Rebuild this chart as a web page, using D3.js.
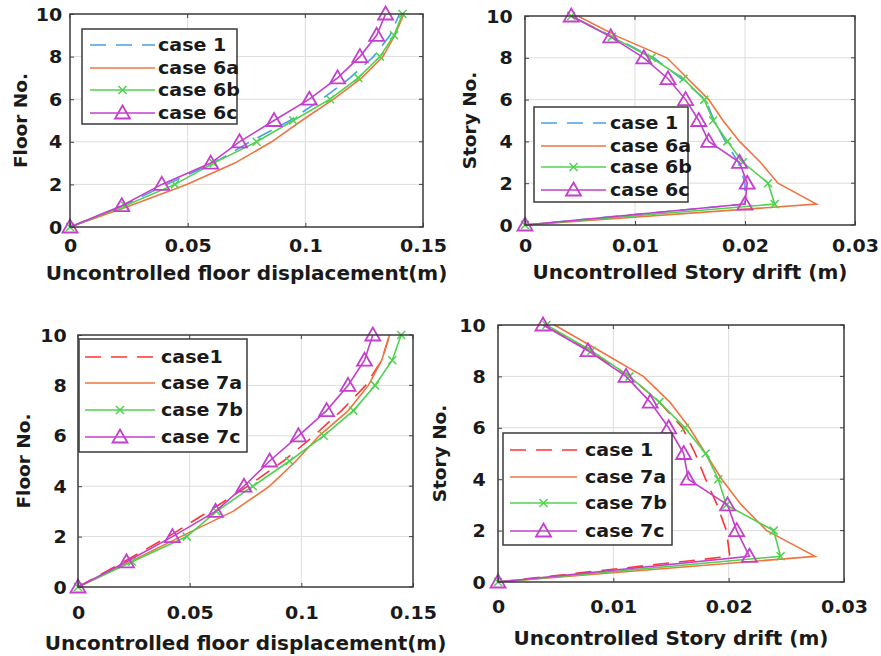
<!DOCTYPE html>
<html>
<head>
<meta charset="utf-8">
<script src="https://cdn.jsdelivr.net/npm/d3@7"></script>
<style>
  body { margin: 0; background: #fff; }
  svg { display: block; }
  text { font-family: "DejaVu Sans", sans-serif; font-weight: bold; fill: #1a1a1a; }
</style>
</head>
<body>
<div id="chart"></div>
<script>
// floor / story numbers
const floors = d3.range(0, 11);

// top-left: floor displacement, case 6
const disp6_case1 = [0, 0.0227, 0.041, 0.061, 0.0765, 0.0935, 0.107, 0.119, 0.129, 0.136, 0.140];
const disp6_a = [0, 0.0255, 0.0496, 0.070, 0.0857, 0.0985, 0.112, 0.124, 0.133, 0.138, 0.1419];
const disp6_b = [0, 0.0234, 0.0446, 0.061, 0.0793, 0.0949, 0.1105, 0.1225, 0.1317, 0.1377, 0.1413];
const disp6_c = [0, 0.022, 0.039, 0.0598, 0.072, 0.0867, 0.1017, 0.1137, 0.1232, 0.1303, 0.1341];

// top-right: story drift, case 6
const drift6_case1 = [0, 0.0200, 0.0200, 0.0194, 0.0182, 0.0172, 0.0164, 0.0142, 0.0117, 0.0080, 0.0042];
const drift6_a = [0, 0.0265, 0.0230, 0.0214, 0.0195, 0.0180, 0.0167, 0.0148, 0.0129, 0.0085, 0.0048];
const drift6_b = [0, 0.0227, 0.0221, 0.0198, 0.0184, 0.0171, 0.0163, 0.0144, 0.0115, 0.0079, 0.0042];
const drift6_c = [0, 0.0200, 0.0202, 0.0195, 0.0167, 0.0158, 0.0146, 0.0130, 0.0108, 0.0078, 0.0042];

// bottom-left: floor displacement, case 7
const disp7_case1 = [0, 0.0205, 0.0405, 0.0585, 0.076, 0.092, 0.1056, 0.118, 0.1288, 0.136, 0.1395];
const disp7_a = [0, 0.0234, 0.046, 0.0694, 0.0858, 0.0976, 0.108, 0.121, 0.130, 0.136, 0.1395];
const disp7_b = [0, 0.0242, 0.0487, 0.062, 0.0783, 0.0947, 0.110, 0.1233, 0.133, 0.1407, 0.1447];
const disp7_c = [0, 0.0217, 0.0423, 0.0616, 0.0743, 0.0858, 0.0987, 0.1113, 0.1209, 0.1283, 0.132];

// bottom-right: story drift, case 7
const drift7_case1 = [0, 0.0201, 0.0198, 0.0190, 0.0180, 0.0171, 0.0160, 0.0140, 0.0114, 0.0079, 0.0041];
const drift7_a = [0, 0.0275, 0.0233, 0.0211, 0.0194, 0.0180, 0.0166, 0.0149, 0.0126, 0.0088, 0.0049];
const drift7_b = [0, 0.0245, 0.0239, 0.0198, 0.0191, 0.0180, 0.0162, 0.0140, 0.0114, 0.0081, 0.0042];
const drift7_c = [0, 0.0218, 0.0207, 0.0199, 0.0165, 0.0161, 0.0148, 0.0132, 0.0111, 0.0078, 0.0039];

const dispTicks = [0, 0.05, 0.1, 0.15];
const driftTicks = [0, 0.01, 0.02, 0.03];
const floorTicks = [0, 2, 4, 6, 8, 10];

const COLORS = {
  blue: '#4a9fe6',
  red: '#ff3333',
  orange: '#ef7440',
  green: '#4fd24f',
  magenta: '#c43fcc',
};

const W = 881, H = 656;
const svg = d3.select('#chart').append('svg').attr('width', W).attr('height', H);

function series(names, values, case1Color) {
  return [
    { name: names[0], values: values[0], color: case1Color, dash: '16,10', marker: null },
    { name: names[1], values: values[1], color: COLORS.orange, dash: null, marker: null },
    { name: names[2], values: values[2], color: COLORS.green, dash: null, marker: 'x' },
    { name: names[3], values: values[3], color: COLORS.magenta, dash: null, marker: 'tri' },
  ];
}

const panels = [
  {
    box: [70, 423, 14, 227], ticks: dispTicks, ylabel: 'Floor No.', xlabel: 'Uncontrolled floor displacement(m)',
    yTitleX: 27, xTickY: 246, xTitleY: 280, yTickGap: 7,
    legend: { x: 82, y: 29, w: 155, h: 95, rows: [45, 68, 90, 113], l0: 90, l1: 155, tx: 158 },
    series: series(['case 1', 'case 6a', 'case 6b', 'case 6c'], [disp6_case1, disp6_a, disp6_b, disp6_c], COLORS.blue),
  },
  {
    box: [525, 855, 16, 225], ticks: driftTicks, ylabel: 'Story No.', xlabel: 'Uncontrolled Story drift (m)',
    yTitleX: 476, xTickY: 246, xTitleY: 279, yTickGap: 11,
    legend: { x: 534, y: 107, w: 154, h: 95, rows: [123, 146, 167, 190], l0: 541, l1: 606, tx: 610 },
    series: series(['case 1', 'case 6a', 'case 6b', 'case 6c'], [drift6_case1, drift6_a, drift6_b, drift6_c], COLORS.blue),
  },
  {
    box: [78, 413, 335, 587], ticks: dispTicks, ylabel: 'Floor No.', xlabel: 'Uncontrolled floor displacement(m)',
    yTitleX: 30, xTickY: 613, xTitleY: 650, yTickGap: 10,
    legend: { x: 79, y: 339, w: 168, h: 113, rows: [357, 383, 410, 437], l0: 85, l1: 155, tx: 161 },
    series: series(['case1', 'case 7a', 'case 7b', 'case 7c'], [disp7_case1, disp7_a, disp7_b, disp7_c], COLORS.red),
  },
  {
    box: [498, 844, 325, 582], ticks: driftTicks, ylabel: 'Story No.', xlabel: 'Uncontrolled Story drift (m)',
    yTitleX: 446, xTickY: 607, xTitleY: 645, yTickGap: 11,
    legend: { x: 503, y: 433, w: 169, h: 112, rows: [450, 477, 503, 531], l0: 510, l1: 577, tx: 585 },
    series: series(['case 1', 'case 7a', 'case 7b', 'case 7c'], [drift7_case1, drift7_a, drift7_b, drift7_c], COLORS.red),
  },
];

function drawMarker(g, type, x, y, color) {
  if (type === 'x') {
    g.append('path')
      .attr('d', `M${x - 4},${y - 4}L${x + 4},${y + 4}M${x - 4},${y + 4}L${x + 4},${y - 4}`)
      .attr('stroke', color).attr('stroke-width', 1.5).attr('fill', 'none');
  } else if (type === 'tri') {
    g.append('path')
      .attr('d', `M${x},${y - 7.5}L${x + 7.5},${y + 5.5}L${x - 7.5},${y + 5.5}Z`)
      .attr('stroke', color).attr('stroke-width', 1.8).attr('fill', 'none');
  }
}

panels.forEach(p => {
  const [x0, x1, y0, y1] = p.box;
  const x = d3.scaleLinear().domain([0, d3.max(p.ticks)]).range([x0, x1]);
  const y = d3.scaleLinear().domain([0, 10]).range([y1, y0]);
  const g = svg.append('g');

  // grid
  g.append('g').selectAll('line.gx')
    .data(p.ticks.slice(1, -1))
    .join('line')
    .attr('x1', d => x(d)).attr('x2', d => x(d))
    .attr('y1', y0).attr('y2', y1)
    .attr('stroke', '#dcdcdc').attr('stroke-width', 1);
  g.append('g').selectAll('line.gy')
    .data(floorTicks.slice(1, -1))
    .join('line')
    .attr('x1', x0).attr('x2', x1)
    .attr('y1', d => y(d)).attr('y2', d => y(d))
    .attr('stroke', '#dcdcdc').attr('stroke-width', 1);

  // axes (ticks inside, matlab style)
  const xAxis = g.append('g').attr('transform', `translate(0,${y1})`)
    .call(d3.axisBottom(x).tickValues(p.ticks).tickSize(-4).tickFormat(d => String(d)));
  const yAxis = g.append('g').attr('transform', `translate(${x0},0)`)
    .call(d3.axisLeft(y).tickValues(floorTicks).tickSize(-4).tickPadding(p.yTickGap));
  [xAxis, yAxis].forEach(a => {
    a.select('.domain').remove();
    a.selectAll('.tick line').attr('stroke', '#444');
    a.selectAll('text').attr('font-size', 17).attr('font-family', 'DejaVu Sans').attr('font-weight', 'bold').attr('fill', '#1a1a1a');
  });
  xAxis.selectAll('text').attr('y', null).attr('dy', null)
    .attr('transform', `translate(0,${p.xTickY - y1}) scale(1.12,1)`).attr('dominant-baseline', 'central');
  yAxis.selectAll('text').attr('dy', '0.36em').attr('transform', 'scale(1.12,1)');

  // top/right tick marks
  g.append('g').selectAll('line')
    .data(p.ticks)
    .join('line')
    .attr('x1', d => x(d)).attr('x2', d => x(d))
    .attr('y1', y0).attr('y2', y0 + 4)
    .attr('stroke', '#444');
  g.append('g').selectAll('line')
    .data(floorTicks)
    .join('line')
    .attr('x1', x1).attr('x2', x1 - 4)
    .attr('y1', d => y(d)).attr('y2', d => y(d))
    .attr('stroke', '#444');

  // series
  const line = d3.line().x(d => x(d[0])).y(d => y(d[1]));
  p.series.forEach(s => {
    const pts = s.values.map((v, i) => [v, floors[i]]);
    g.append('path')
      .attr('d', line(pts))
      .attr('fill', 'none')
      .attr('stroke', s.color)
      .attr('stroke-width', 1.6)
      .attr('stroke-dasharray', s.dash);
    if (s.marker) {
      pts.forEach(pt => drawMarker(g, s.marker, x(pt[0]), y(pt[1]), s.color));
    }
  });

  // box
  g.append('rect')
    .attr('x', x0).attr('y', y0).attr('width', x1 - x0).attr('height', y1 - y0)
    .attr('fill', 'none').attr('stroke', '#3a3a3a').attr('stroke-width', 1.5);

  // legend
  const L = p.legend;
  const lg = g.append('g');
  lg.append('rect')
    .attr('x', L.x).attr('y', L.y).attr('width', L.w).attr('height', L.h)
    .attr('fill', '#fff').attr('stroke', '#3a3a3a').attr('stroke-width', 1.5);
  p.series.forEach((s, i) => {
    const ry = L.rows[i];
    lg.append('line')
      .attr('x1', L.l0).attr('x2', L.l1).attr('y1', ry).attr('y2', ry)
      .attr('stroke', s.color).attr('stroke-width', 1.6)
      .attr('stroke-dasharray', s.dash);
    if (s.marker) drawMarker(lg, s.marker, (L.l0 + L.l1) / 2, ry, s.color);
    lg.append('text')
      .attr('transform', `translate(${L.tx},${ry}) scale(1.06,1)`)
      .attr('dy', '0.35em')
      .attr('font-size', 18)
      .text(s.name);
  });

  // axis titles
  g.append('text')
    .attr('x', (x0 + x1) / 2).attr('y', p.xTitleY)
    .attr('text-anchor', 'middle').attr('font-size', 20)
    .text(p.xlabel);
  g.append('text')
    .attr('transform', `translate(${p.yTitleX},${(y0 + y1) / 2}) rotate(-90)`)
    .attr('text-anchor', 'middle').attr('font-size', 18.5)
    .text(p.ylabel);
});
</script>
</body>
</html>
